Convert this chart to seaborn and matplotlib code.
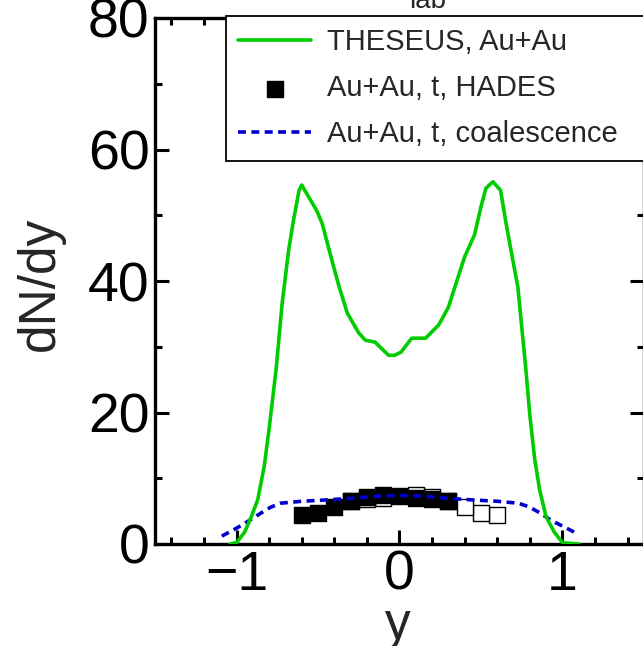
import matplotlib
matplotlib.use("Agg")
import matplotlib.pyplot as plt
from matplotlib.ticker import MultipleLocator
import seaborn as sns
import pandas as pd

# THESEUS Au+Au curve
theseus_y = [-1.04, -1.0, -0.95, -0.91, -0.87, -0.83, -0.80, -0.756, -0.72, -0.68, -0.65,
             -0.616, -0.60, -0.51, -0.475, -0.41, -0.37, -0.32, -0.25, -0.21, -0.15,
             -0.067, -0.03, 0.01, 0.075, 0.16, 0.24, 0.30, 0.34, 0.40, 0.46, 0.50,
             0.53, 0.573, 0.62, 0.65, 0.68, 0.726, 0.774, 0.80, 0.83, 0.86, 0.90,
             0.95, 1.0, 1.10]
theseus_dndy = [0.0, 0.2, 1.8, 4.1, 6.7, 11.8, 17.5, 26.8, 36.6, 44.7, 49.3,
                53.8, 54.6, 50.8, 48.8, 42.7, 39.1, 35.1, 32.1, 31.0, 30.7,
                28.7, 28.7, 29.2, 31.3, 31.3, 33.3, 36.0, 39.1, 43.7, 47.0, 51.3,
                54.1, 55.1, 53.8, 49.3, 45.2, 39.1, 26.9, 19.5, 12.8, 8.2, 4.1,
                1.8, 0.2, 0.0]

# HADES triton data (measured, filled) and reflected (open)
hades_y = [-0.6, -0.5, -0.4, -0.3, -0.2, -0.1, 0.0, 0.1, 0.2, 0.3]
hades_dndy = [4.4, 4.7, 5.6, 6.6, 7.2, 7.45, 7.3, 7.05, 6.8, 6.6]
hades_refl_y = [0.6, 0.5, 0.4, 0.3, 0.2, 0.1, -0.1, -0.2, -0.3]
hades_refl_dndy = [4.4, 4.7, 5.6, 6.6, 7.2, 7.45, 7.05, 6.8, 6.6]

# Coalescence curve
coal_y = [-1.09, -1.0, -0.92, -0.85, -0.79, -0.73, -0.6, -0.45, -0.3, -0.15, 0.0,
          0.15, 0.3, 0.45, 0.6, 0.73, 0.80, 0.87, 0.93, 1.01, 1.08]
coal_dndy = [1.2, 2.4, 3.6, 4.7, 5.6, 6.2, 6.5, 6.7, 6.95, 7.25, 7.4,
             7.25, 6.95, 6.7, 6.5, 6.2, 5.6, 4.6, 3.6, 2.6, 1.7]

labels = ["THESEUS, Au+Au", "Au+Au, t, HADES", "Au+Au, t, coalescence"]
xticks = [-1, 0, 1]
yticks = [0, 20, 40, 60, 80]

sns.set_style("ticks")
plt.rcParams["font.family"] = ["Liberation Sans", "DejaVu Sans"]

fig = plt.figure(figsize=(6.43, 6.46), dpi=100)
ax = fig.add_axes([155 / 643, 102 / 646, 489 / 643, 526 / 646])

df_th = pd.DataFrame({"y": theseus_y, "dndy": theseus_dndy})
df_h = pd.DataFrame({"y": hades_y, "dndy": hades_dndy})
df_hr = pd.DataFrame({"y": hades_refl_y, "dndy": hades_refl_dndy})
df_c = pd.DataFrame({"y": coal_y, "dndy": coal_dndy})

sns.scatterplot(data=df_hr, x="y", y="dndy", ax=ax, marker="s", s=118,
                facecolor="white", edgecolor="black", linewidth=1.0, zorder=2)
sns.scatterplot(data=df_h, x="y", y="dndy", ax=ax, marker="s", s=118,
                color="black", edgecolor="black", linewidth=1.0, zorder=3,
                label=labels[1])
sns.lineplot(data=df_c, x="y", y="dndy", ax=ax, color="#0000cc", linewidth=2.6,
             dashes=False, zorder=4, label=labels[2], estimator=None, sort=False)
ax.lines[-1].set_dashes((2.2, 1.5))
sns.lineplot(data=df_th, x="y", y="dndy", ax=ax, color="#00cc00", linewidth=2.6,
             zorder=5, label=labels[0], estimator=None, sort=False)

ax.set_xlim(-1.5, 1.5)
ax.set_ylim(0, 80)
ax.set_xticks(xticks)
ax.set_yticks(yticks)
ax.xaxis.set_minor_locator(MultipleLocator(0.2))
ax.yaxis.set_minor_locator(MultipleLocator(10))
ax.tick_params(which="both", direction="in", top=True, right=True, width=2.2,
               labelsize=40, pad=4, colors="black")
ax.tick_params(which="major", length=10)
ax.tick_params(which="minor", length=5)
for sp in ax.spines.values():
    sp.set_linewidth(2.4)
    sp.set_color("black")

ax.set_xlabel("y", fontsize=37)
ax.set_ylabel("dN/dy", fontsize=37)
ax.xaxis.set_label_coords(0.497, -0.108)
ax.yaxis.set_label_coords(-0.185, 0.495)

h, l = ax.get_legend_handles_labels()
order = [l.index(t) for t in labels]
leg = ax.legend([h[i] for i in order], [l[i] for i in order],
                loc="upper left", bbox_to_anchor=(0.145, 1.004, 0.855, 0),
                mode="expand", fontsize=21, frameon=True, fancybox=False,
                edgecolor="black", framealpha=1, borderaxespad=0,
                borderpad=0.42, handlelength=2.5, handletextpad=0.55,
                labelspacing=0.62)
leg.get_frame().set_linewidth(1.3)

fig.text(428 / 643, 1 - 8 / 646, "lab", fontsize=20, ha="center", va="baseline")

fig.savefig("out.png", dpi=100)
